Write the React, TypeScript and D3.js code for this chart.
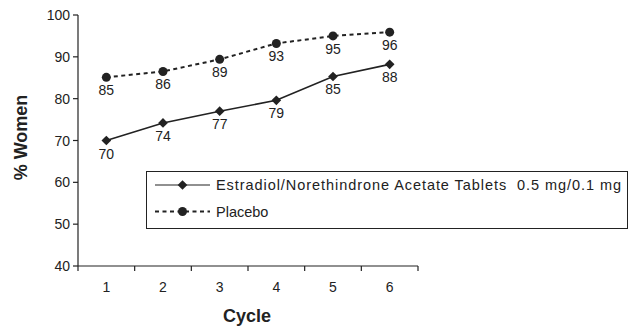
import React from "react";
import * as d3 from "d3";

const cycles = ["1", "2", "3", "4", "5", "6"];
const estradiolValues = [70, 74.2, 77, 79.6, 85.3, 88.2];
const estradiolLabels = ["70", "74", "77", "79", "85", "88"];
const placeboValues = [85.1, 86.5, 89.4, 93.2, 95, 95.9];
const placeboLabels = ["85", "86", "89", "93", "95", "96"];
const yTicks = [40, 50, 60, 70, 80, 90, 100];
const seriesNames = ["Estradiol/Norethindrone Acetate Tablets\u00a0\u00a00.5 mg/0.1 mg", "Placebo"];

const W = 643;
const H = 333;
const left = 78;
const right = 418;
const top = 15;
const bottom = 266;
const FONT = "'Liberation Sans', Arial, sans-serif";
const INK = "#222";

export default function App() {
  const x = d3.scaleBand<string>().domain(cycles).range([left, right]);
  const y = d3.scaleLinear().domain([40, 100]).range([bottom, top]);
  const cx = (c: string) => (x(c) as number) + x.bandwidth() / 2;
  const line = d3.line<number>().x((_, i) => cx(cycles[i])).y((v) => y(v));
  const diamond = d3.symbol().type(d3.symbolDiamond2).size(60)() as string;

  return (
    <svg width={W} height={H} style={{ position: "absolute", left: 0, top: 0, background: "#fff" }}>
      <rect x={0} y={0} width={W} height={H} fill="#fff" />
      {/* axes */}
      <line x1={left} x2={left} y1={top} y2={bottom} stroke={INK} strokeWidth={1.2} />
      <line x1={left} x2={right} y1={bottom} y2={bottom} stroke={INK} strokeWidth={1.2} />
      {yTicks.map((t) => (
        <g key={t}>
          <line x1={left - 5} x2={left} y1={y(t)} y2={y(t)} stroke={INK} strokeWidth={1.2} />
          <text x={left - 8} y={y(t) + 5} textAnchor="end" fontFamily={FONT} fontSize={14} fill={INK}>
            {t}
          </text>
        </g>
      ))}
      {d3.range(cycles.length + 1).map((i) => {
        const px = left + i * x.bandwidth();
        return <line key={i} x1={px} x2={px} y1={bottom} y2={bottom + 5} stroke={INK} strokeWidth={1.2} />;
      })}
      {cycles.map((c) => (
        <text key={c} x={cx(c)} y={292} textAnchor="middle" fontFamily={FONT} fontSize={14} fill={INK}>
          {c}
        </text>
      ))}
      <text x={247} y={322} textAnchor="middle" fontFamily={FONT} fontSize={18} fontWeight="bold" fill={INK}>
        Cycle
      </text>
      <text
        transform={`translate(27,${(top + bottom) / 2 - 3}) rotate(-90)`}
        textAnchor="middle"
        fontFamily={FONT}
        fontSize={18}
        fontWeight="bold"
        fill={INK}
      >
        % Women
      </text>

      {/* placebo */}
      <path d={line(placeboValues) as string} fill="none" stroke={INK} strokeWidth={2} strokeDasharray="4,3.5" />
      {placeboValues.map((v, i) => (
        <g key={i}>
          <circle cx={cx(cycles[i])} cy={y(v)} r={4.5} fill={INK} />
          <text x={cx(cycles[i])} y={y(v) + 18} textAnchor="middle" fontFamily={FONT} fontSize={14} fill={INK}>
            {placeboLabels[i]}
          </text>
        </g>
      ))}

      {/* estradiol */}
      <path d={line(estradiolValues) as string} fill="none" stroke={INK} strokeWidth={1.6} />
      {estradiolValues.map((v, i) => (
        <g key={i}>
          <path d={diamond} transform={`translate(${cx(cycles[i])},${y(v)})`} fill={INK} />
          <text x={cx(cycles[i])} y={y(v) + 18} textAnchor="middle" fontFamily={FONT} fontSize={14} fill={INK}>
            {estradiolLabels[i]}
          </text>
        </g>
      ))}

      {/* legend */}
      <rect x={146.5} y={171.5} width={481} height={57} fill="#fff" stroke={INK} strokeWidth={1} />
      <line x1={155} x2={210} y1={185} y2={185} stroke={INK} strokeWidth={1.2} />
      <path d={diamond} transform="translate(182.5,185)" fill={INK} />
      <text
        x={216}
        y={190}
        fontFamily={FONT}
        fontSize={14.5}
        fill={INK}
        textLength={405}
        lengthAdjust="spacing"
      >
        {seriesNames[0]}
      </text>
      <line x1={155} x2={210} y1={211.5} y2={211.5} stroke={INK} strokeWidth={2} strokeDasharray="4,3.5" />
      <circle cx={182.5} cy={211.5} r={4.5} fill={INK} />
      <text x={216} y={216.5} fontFamily={FONT} fontSize={14.5} fill={INK}>
        {seriesNames[1]}
      </text>
    </svg>
  );
}
